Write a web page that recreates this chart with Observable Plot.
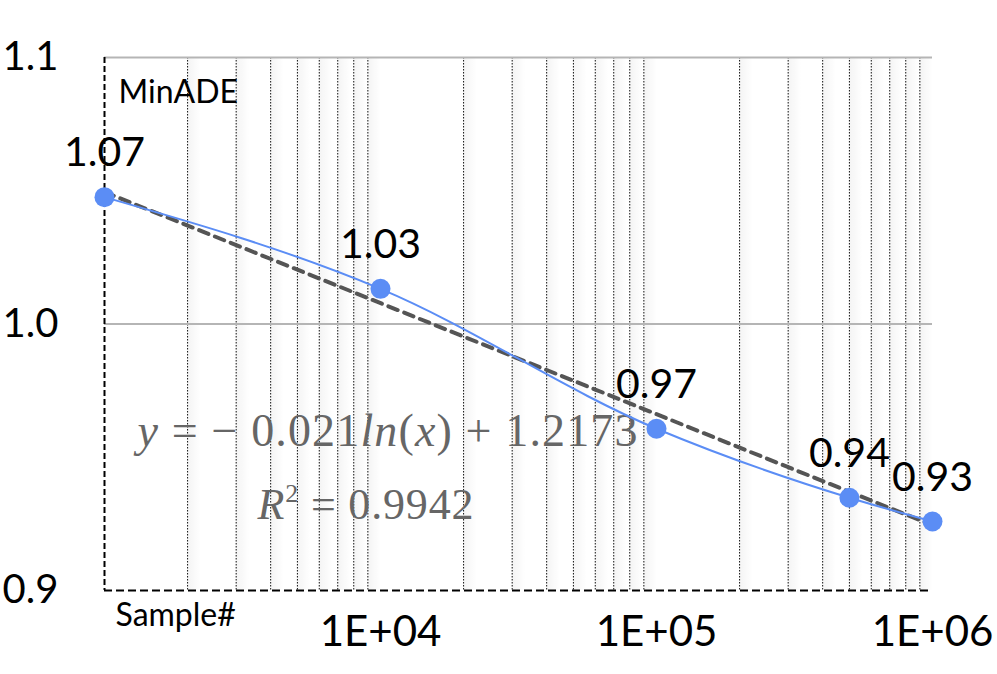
<!DOCTYPE html>
<html><head><meta charset="utf-8">
<script src="https://cdn.jsdelivr.net/npm/d3@7"></script>
<script src="https://cdn.jsdelivr.net/npm/@observablehq/plot@0.6"></script>
<style>body{margin:0;background:#fff;}</style>
</head><body><div id="chart"></div>
<script>
const samples = [1000, 10000, 100000, 500000, 1000000];
const minADE = [1.0476, 1.0132, 0.9607, 0.9348, 0.9259];
const valueLabels = ["1.07", "1.03", "0.97", "0.94", "0.93"];
const trendX = [1000, 1000000];
const trendY = [1.0495, 0.9245];
const yTicks = [0.9, 1.0, 1.1];
const yTickLabels = ["0.9", "1.0", "1.1"];
const xTicks = [1e4, 1e5, 1e6];
const xTickLabels = ["1E+04", "1E+05", "1E+06"];
const decades = [1e3, 1e4, 1e5];
const minorMultipliers = [2, 3, 4, 5, 6, 7, 8, 9];
const yTitle = "MinADE";
const xTitle = "Sample#";
const equationText = "y = − 0.021ln(x) + 1.2173";
const r2Text = "R2 = 0.9942";

const minor = decades.flatMap(d => minorMultipliers.map(k => k * d));
const pts = samples.map((s, i) => ({s, v: minADE[i], label: valueLabels[i]}));
const trend = trendX.map((s, i) => ({s, v: trendY[i]}));
const sans = "Lato, 'Open Sans', sans-serif";
const serif = "'Liberation Serif', 'DejaVu Serif', serif";
const blue = "#5b8df5";

const chart = Plot.plot({
  width: 997, height: 674,
  marginLeft: 104, marginRight: 65, marginTop: 57, marginBottom: 84,
  style: {background: "#fff", overflow: "visible"},
  x: {type: "log", domain: [1000, 1e6], axis: null},
  y: {domain: [0.9, 1.1], axis: null},
  marks: [
    Plot.rect(minor, {x1: d => d, x2: d => d * 1.12, fill: "url(#bandfade)"}),
    Plot.ruleX(minor, {x: d => d, stroke: "#111", strokeWidth: 1, strokeDasharray: "1.5,1.5"}),
    Plot.ruleY([1.0, 1.1], {stroke: "#b5b5b5", strokeWidth: 2}),
    Plot.ruleX([1000], {stroke: "#000", strokeWidth: 2, strokeDasharray: "6,3"}),
    Plot.ruleY([0.9], {stroke: "#000", strokeWidth: 2, strokeDasharray: "8,4"}),
    Plot.text([equationText], {text: d => d, frameAnchor: "top-left", dx: 283, dy: 374, textAnchor: "middle", lineAnchor: "middle", fontFamily: serif, fontSize: 46, fill: "#666"}),
    Plot.text([r2Text], {text: d => d, frameAnchor: "top-left", dx: 261, dy: 447, textAnchor: "middle", lineAnchor: "middle", fontFamily: serif, fontSize: 44, fill: "#666"}),
    Plot.line(trend, {x: "s", y: "v", stroke: "#555", strokeWidth: 4, strokeDasharray: "10,7"}),
    Plot.line(pts, {x: "s", y: "v", stroke: blue, strokeWidth: 2, curve: "monotone-x"}),
    Plot.dot(pts, {x: "s", y: "v", r: 10, fill: blue}),
    Plot.text(pts, {x: "s", y: "v", text: "label", dy: -44, fontFamily: sans, fontSize: 41, fill: "#000"}),
    Plot.text(yTicks, {y: d => d, text: (d, i) => yTickLabels[i], frameAnchor: "left", dx: -102, textAnchor: "start", fontFamily: sans, fontSize: 40, fill: "#000"}),
    Plot.text(xTicks, {x: d => d, text: (d, i) => xTickLabels[i], frameAnchor: "bottom", dy: 55, fontFamily: sans, fontSize: 42, fill: "#000"}),
    Plot.text([yTitle], {text: d => d, frameAnchor: "top-left", dx: 14, dy: 23, textAnchor: "start", fontFamily: sans, fontSize: 32, fill: "#000"}),
    Plot.text([xTitle], {text: d => d, frameAnchor: "bottom-left", dx: 11, dy: 35, textAnchor: "start", fontFamily: sans, fontSize: 32, fill: "#000"})
  ]
});
document.getElementById("chart").appendChild(chart);

// gradient for the faint bands beside each minor gridline
const defs = d3.select(chart).insert("defs", ":first-child");
const grad = defs.append("linearGradient").attr("id", "bandfade").attr("x1", 0).attr("x2", 1).attr("y1", 0).attr("y2", 0);
grad.append("stop").attr("offset", "0%").attr("stop-color", "#000").attr("stop-opacity", 0.045);
grad.append("stop").attr("offset", "100%").attr("stop-color", "#000").attr("stop-opacity", 0);

// rich formatting of the regression annotation
d3.select(chart).selectAll("text").each(function() {
  const t = this.textContent;
  const sel = d3.select(this);
  if (t === equationText) {
    sel.text(null);
    const parts = [["y", true], [" = − 0.021", false], ["ln", true], ["(", false], ["x", true], [") + 1.2173", false]];
    for (const [s, it] of parts) sel.append("tspan").attr("font-style", it ? "italic" : "normal").text(s);
    sel.attr("textLength", 500).attr("lengthAdjust", "spacing");
  } else if (t === r2Text) {
    sel.text(null);
    sel.append("tspan").attr("font-style", "italic").text("R");
    sel.append("tspan").attr("font-size", 26).attr("dy", -17).text("2");
    sel.append("tspan").attr("dy", 17).text(" = 0.9942");
    sel.attr("textLength", 216).attr("lengthAdjust", "spacing");
  }
});
</script>
</body></html>
